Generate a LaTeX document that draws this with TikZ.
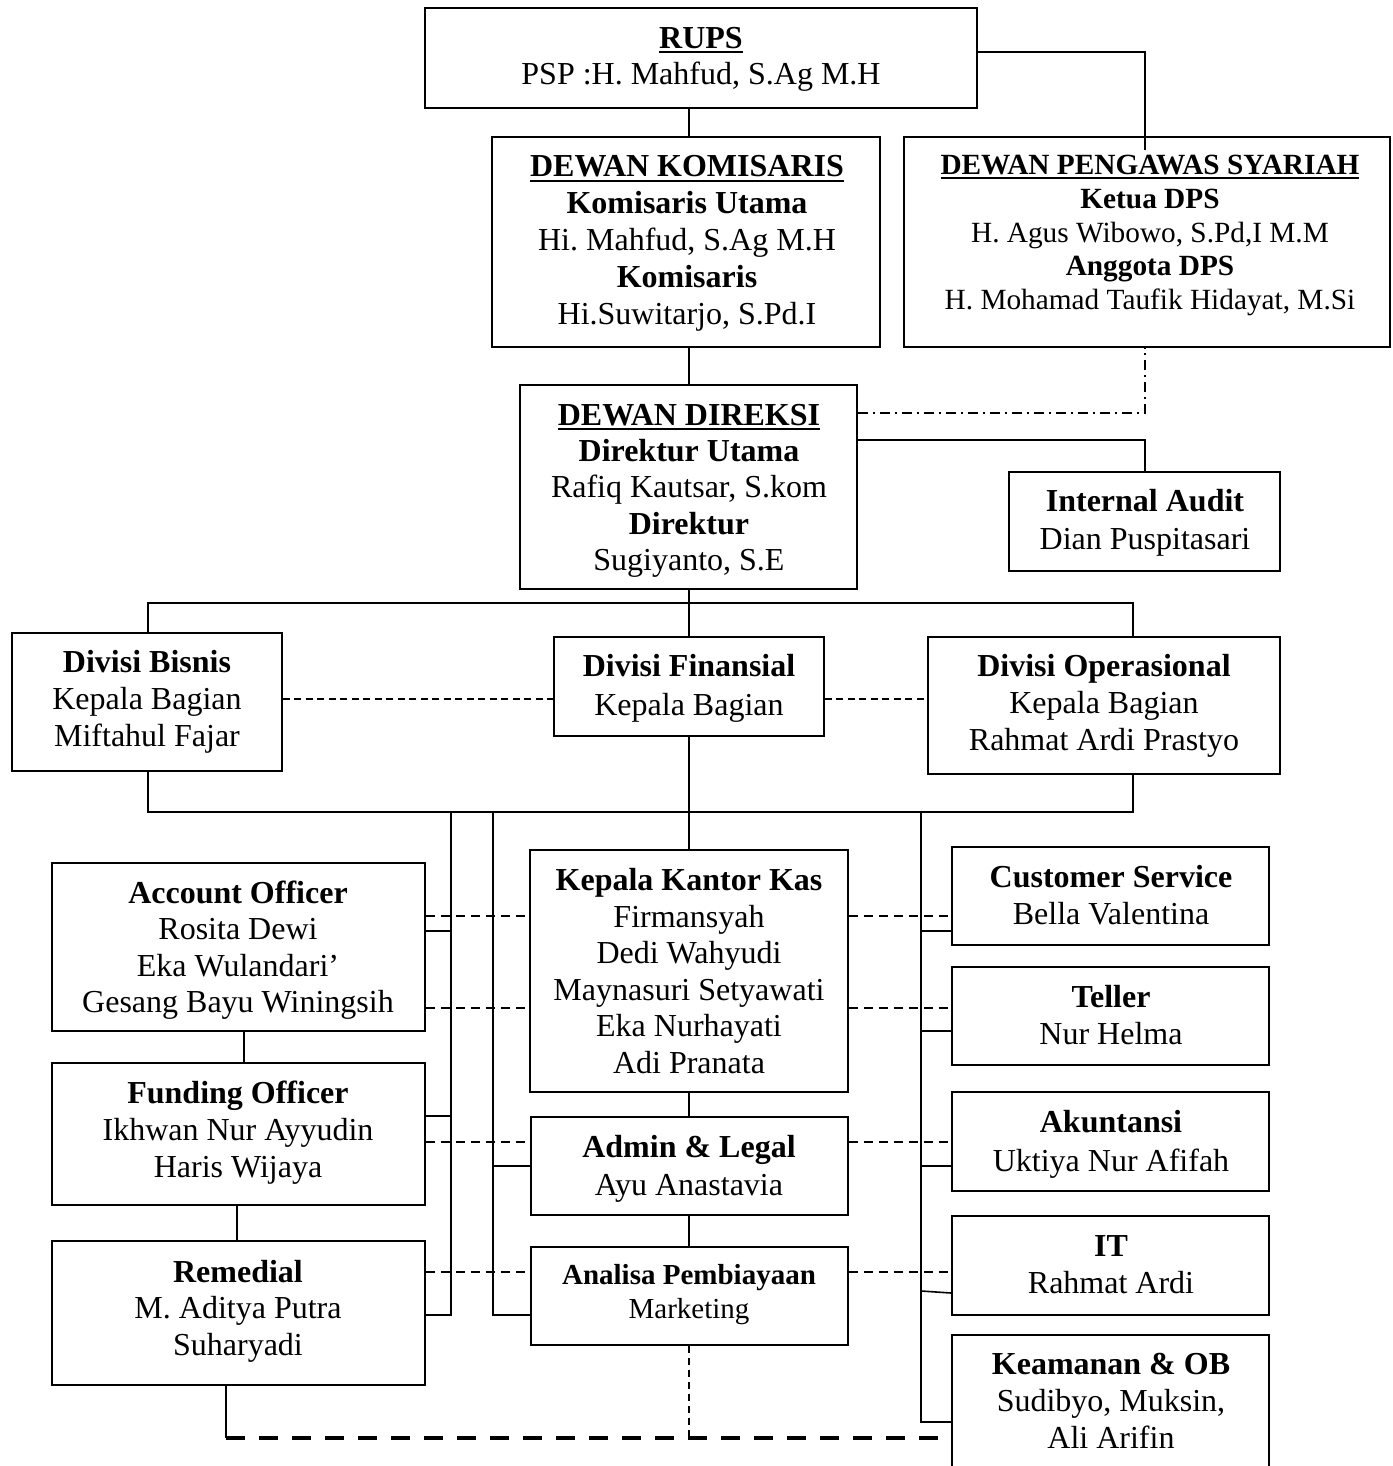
\documentclass[tikz,border=0pt]{standalone}
\usepackage{fontspec}
\setmainfont{Liberation Serif}
\frenchspacing
\newsavebox\ulbox
\newcommand\myul[1]{\sbox\ulbox{#1}\rlap{\rule[-5pt]{\wd\ulbox}{2.2pt}}\usebox\ulbox}
\newcommand\fs[2]{\fontsize{#1}{#2}\selectfont}
\newcommand\Bx[1]{\strut\textbf{#1}}
\newcommand\Rx[1]{\strut #1}
\newcommand\Ux[1]{\strut\textbf{\myul{#1}}}
\newcommand\bx[5]{\node[box, minimum width={(#4-#2)*1pt}, minimum height={(#5-#3)*1pt}] (#1) at ({(#2+#4)/2},{(#3+#5)/2}) {};}
\begin{document}
\begin{tikzpicture}[x=1pt,y=-1pt,
 box/.style={draw, line width=1.8pt, inner sep=0pt},
 txt/.style={inner sep=0pt, align=center, anchor=north},
 ln/.style={line width=1.6pt},
 dsh/.style={line width=1.5pt, dash pattern=on 9pt off 6pt},
 dshd/.style={line width=2pt, dash pattern=on 7pt off 4.5pt},
 ddot/.style={line width=1.5pt, dash pattern=on 10pt off 5pt on 2pt off 5pt},
 bigdash/.style={line width=4pt, dash pattern=on 19pt off 14pt},
]
\fill[white] (0,0) rectangle (1392,1466);
\useasboundingbox (0,0) rectangle (1392,1466);

% boxes
\bx{rups}{425}{8}{977}{108}
\bx{dk}{492}{137}{880}{347}
\bx{dps}{904}{137}{1390}{347}
\bx{dd}{520}{385}{857}{589}
\bx{ia}{1009}{472}{1280}{571}
\bx{db}{12}{633}{282}{771}
\bx{df}{554}{637}{824}{736}
\bx{do}{928}{637}{1280}{774}
\bx{ao}{52}{863}{425}{1031}
\bx{fo}{52}{1063}{425}{1205}
\bx{rem}{52}{1241}{425}{1385}
\bx{kkk}{530}{850}{848}{1092}
\bx{al}{531}{1117}{848}{1215}
\bx{ap}{531}{1247}{848}{1345}
\bx{cs}{952}{847}{1269}{945}
\bx{tel}{952}{967}{1269}{1065}
\bx{ak}{952}{1092}{1269}{1191}
\bx{it}{952}{1216}{1269}{1315}
\bx{kob}{952}{1335}{1269}{1480}

% texts
\node[txt,font=\fs{32}{36.5}] (trups) at (701,22.7) {\Ux{RUPS}\\\Rx{PSP :H. Mahfud, S.Ag M.H}};
\node[txt,font=\fs{32}{37}] (tdk) at (687,150.8) {\Ux{DEWAN KOMISARIS}\\\Bx{Komisaris Utama}\\\Rx{Hi. Mahfud, S.Ag M.H}\\\Bx{Komisaris}\\\Rx{Hi.Suwitarjo, S.Pd.I}};
\node[txt,font=\fs{29.3}{33.8}] (tdps) at (1150,150.6) {\Ux{DEWAN PENGAWAS SYARIAH}\\\Bx{Ketua DPS}\\\Rx{H. Agus Wibowo, S.Pd,I M.M}\\\Bx{Anggota DPS}\\\Rx{H. Mohamad Taufik Hidayat, M.Si}};
\node[txt,font=\fs{32}{36.4}] (tdd) at (689,399.5) {\Ux{DEWAN DIREKSI}\\\Bx{Direktur Utama}\\\Rx{Rafiq Kautsar, S.kom}\\\Bx{Direktur}\\\Rx{Sugiyanto, S.E}};
\node[txt,font=\fs{32}{38}] (tia) at (1145,484.4) {\Bx{Internal Audit}\\\Rx{Dian Puspitasari}};
\node[txt,font=\fs{32}{37}] (tdb) at (147,646.4) {\Bx{Divisi Bisnis}\\\Rx{Kepala Bagian}\\\Rx{Miftahul Fajar}};
\node[txt,font=\fs{32}{39}] (tdf) at (689,648.7) {\Bx{Divisi Finansial}\\\Rx{Kepala Bagian}};
\node[txt,font=\fs{32}{37}] (tdo) at (1104,650.1) {\Bx{Divisi Operasional}\\\Rx{Kepala Bagian}\\\Rx{Rahmat Ardi Prastyo}};
\node[txt,font=\fs{32}{36.5}] (tao) at (238,877.7) {\Bx{Account Officer}\\\Rx{Rosita Dewi}\\\Rx{Eka Wulandari’}\\\Rx{Gesang Bayu Winingsih}};
\node[txt,font=\fs{32}{37}] (tfo) at (238,1077) {\Bx{Funding Officer}\\\Rx{Ikhwan Nur Ayyudin}\\\Rx{Haris Wijaya}};
\node[txt,font=\fs{32}{36.5}] (trem) at (238,1256.7) {\Bx{Remedial}\\\Rx{M. Aditya Putra}\\\Rx{Suharyadi}};
\node[txt,font=\fs{32}{36.5}] (tkkk) at (689,865) {\Bx{Kepala Kantor Kas}\\\Rx{Firmansyah}\\\Rx{Dedi Wahyudi}\\\Rx{Maynasuri Setyawati}\\\Rx{Eka Nurhayati}\\\Rx{Adi Pranata}};
\node[txt,font=\fs{32}{38}] (tal) at (689,1130.2) {\Bx{Admin \& Legal}\\\Rx{Ayu Anastavia}};
\node[txt,font=\fs{29}{34}] (tap) at (689,1260.5) {\Bx{Analisa Pembiayaan}\\\Rx{Marketing}};
\node[txt,font=\fs{32}{37}] (tcs) at (1111,861.1) {\Bx{Customer Service}\\\Rx{Bella Valentina}};
\node[txt,font=\fs{32}{37.4}] (ttel) at (1111,980.7) {\Bx{Teller}\\\Rx{Nur Helma}};
\node[txt,font=\fs{32}{39}] (tak) at (1111,1105.3) {\Bx{Akuntansi}\\\Rx{Uktiya Nur Afifah}};
\node[txt,font=\fs{32}{37}] (tit) at (1111,1230.8) {\Bx{IT}\\\Rx{Rahmat Ardi}};
\node[txt,font=\fs{32}{37.2}] (tkob) at (1111,1348.3) {\Bx{Keamanan \& OB}\\\Rx{Sudibyo, Muksin,}\\\Rx{Ali Arifin}};

% helper coordinates
\coordinate (xm) at (689,0);
\coordinate (xr) at (1145,0);
\coordinate (xl1) at (148,0);
\coordinate (xr1) at (1133,0);
\coordinate (yb1) at (0,603);
\coordinate (yb2) at (0,812);
\coordinate (xa) at (451,0);
\coordinate (xb) at (493,0);
\coordinate (xc) at (921,0);
\coordinate (xq) at (226,0);

% connectors
\draw[ln] (xm |- rups.south) -- (xm |- dk.north);
\draw[ln] (rups.east |- 0,52) -| (xr |- 0,150);
\draw[ln] (xm |- dk.south) -- (xm |- dd.north);
\draw[ddot] (dd.east |- 0,413) -| (xr |- dps.south);
\draw[ln] (dd.east |- 0,440) -| (xr |- ia.north);
\draw[ln] (xm |- dd.south) -- (xm |- df.north);
\draw[ln] (xl1 |- db.north) |- (xr1 |- yb1) -- (xr1 |- do.north);
\draw[dshd] (db.east |- 0,699) -- (df.west |- 0,699);
\draw[dshd] (df.east |- 0,699) -- (do.west |- 0,699);
\draw[ln] (xl1 |- db.south) |- (xr1 |- yb2) -- (xr1 |- do.south);
\draw[ln] (xm |- df.south) -- (xm |- kkk.north);
\draw[ln] (xm |- kkk.south) -- (xm |- al.north);
\draw[ln] (xm |- al.south) -- (xm |- ap.north);
\draw[ln] (ao.south -| 244,0) -- (fo.north -| 244,0);
\draw[ln] (fo.south -| 237,0) -- (rem.north -| 237,0);

\draw[ln] (xa |- yb2) |- (rem.east |- 0,1315);
\draw[ln] (ao.east |- 0,931) -- (xa |- 0,931);
\draw[ln] (fo.east |- 0,1116) -- (xa |- 0,1116);
\draw[ln] (xb |- yb2) |- (ap.west |- 0,1315);
\draw[ln] (xb |- 0,1166) -- (al.west |- 0,1166);
\draw[ln] (xc |- yb2) |- (kob.west |- 0,1422);
\draw[ln] (xc |- 0,931) -- (cs.west |- 0,931);
\draw[ln] (xc |- 0,1031) -- (tel.west |- 0,1031);
\draw[ln] (xc |- 0,1166) -- (ak.west |- 0,1166);
\draw[ln] (xc |- 0,1291) -- (it.west |- 0,1293);

\draw[dsh] (ao.east |- 0,916) -- (kkk.west |- 0,916);
\draw[dsh] (ao.east |- 0,1008) -- (kkk.west |- 0,1008);
\draw[dsh] (fo.east |- 0,1142) -- (al.west |- 0,1142);
\draw[dsh] (rem.east |- 0,1272) -- (ap.west |- 0,1272);
\draw[dsh] (kkk.east |- 0,916) -- (cs.west |- 0,916);
\draw[dsh] (kkk.east |- 0,1008) -- (tel.west |- 0,1008);
\draw[dsh] (al.east |- 0,1142) -- (ak.west |- 0,1142);
\draw[dsh] (ap.east |- 0,1272) -- (it.west |- 0,1272);
\draw[dsh, dash pattern=on 7pt off 5pt] (xm |- ap.south) -- (xm |- 0,1438);
\draw[ln] (xq |- rem.south) -- (xq |- 0,1438);
\draw[bigdash] (xq |- 0,1438) -- (kob.west |- 0,1438);
\end{tikzpicture}
\end{document}
